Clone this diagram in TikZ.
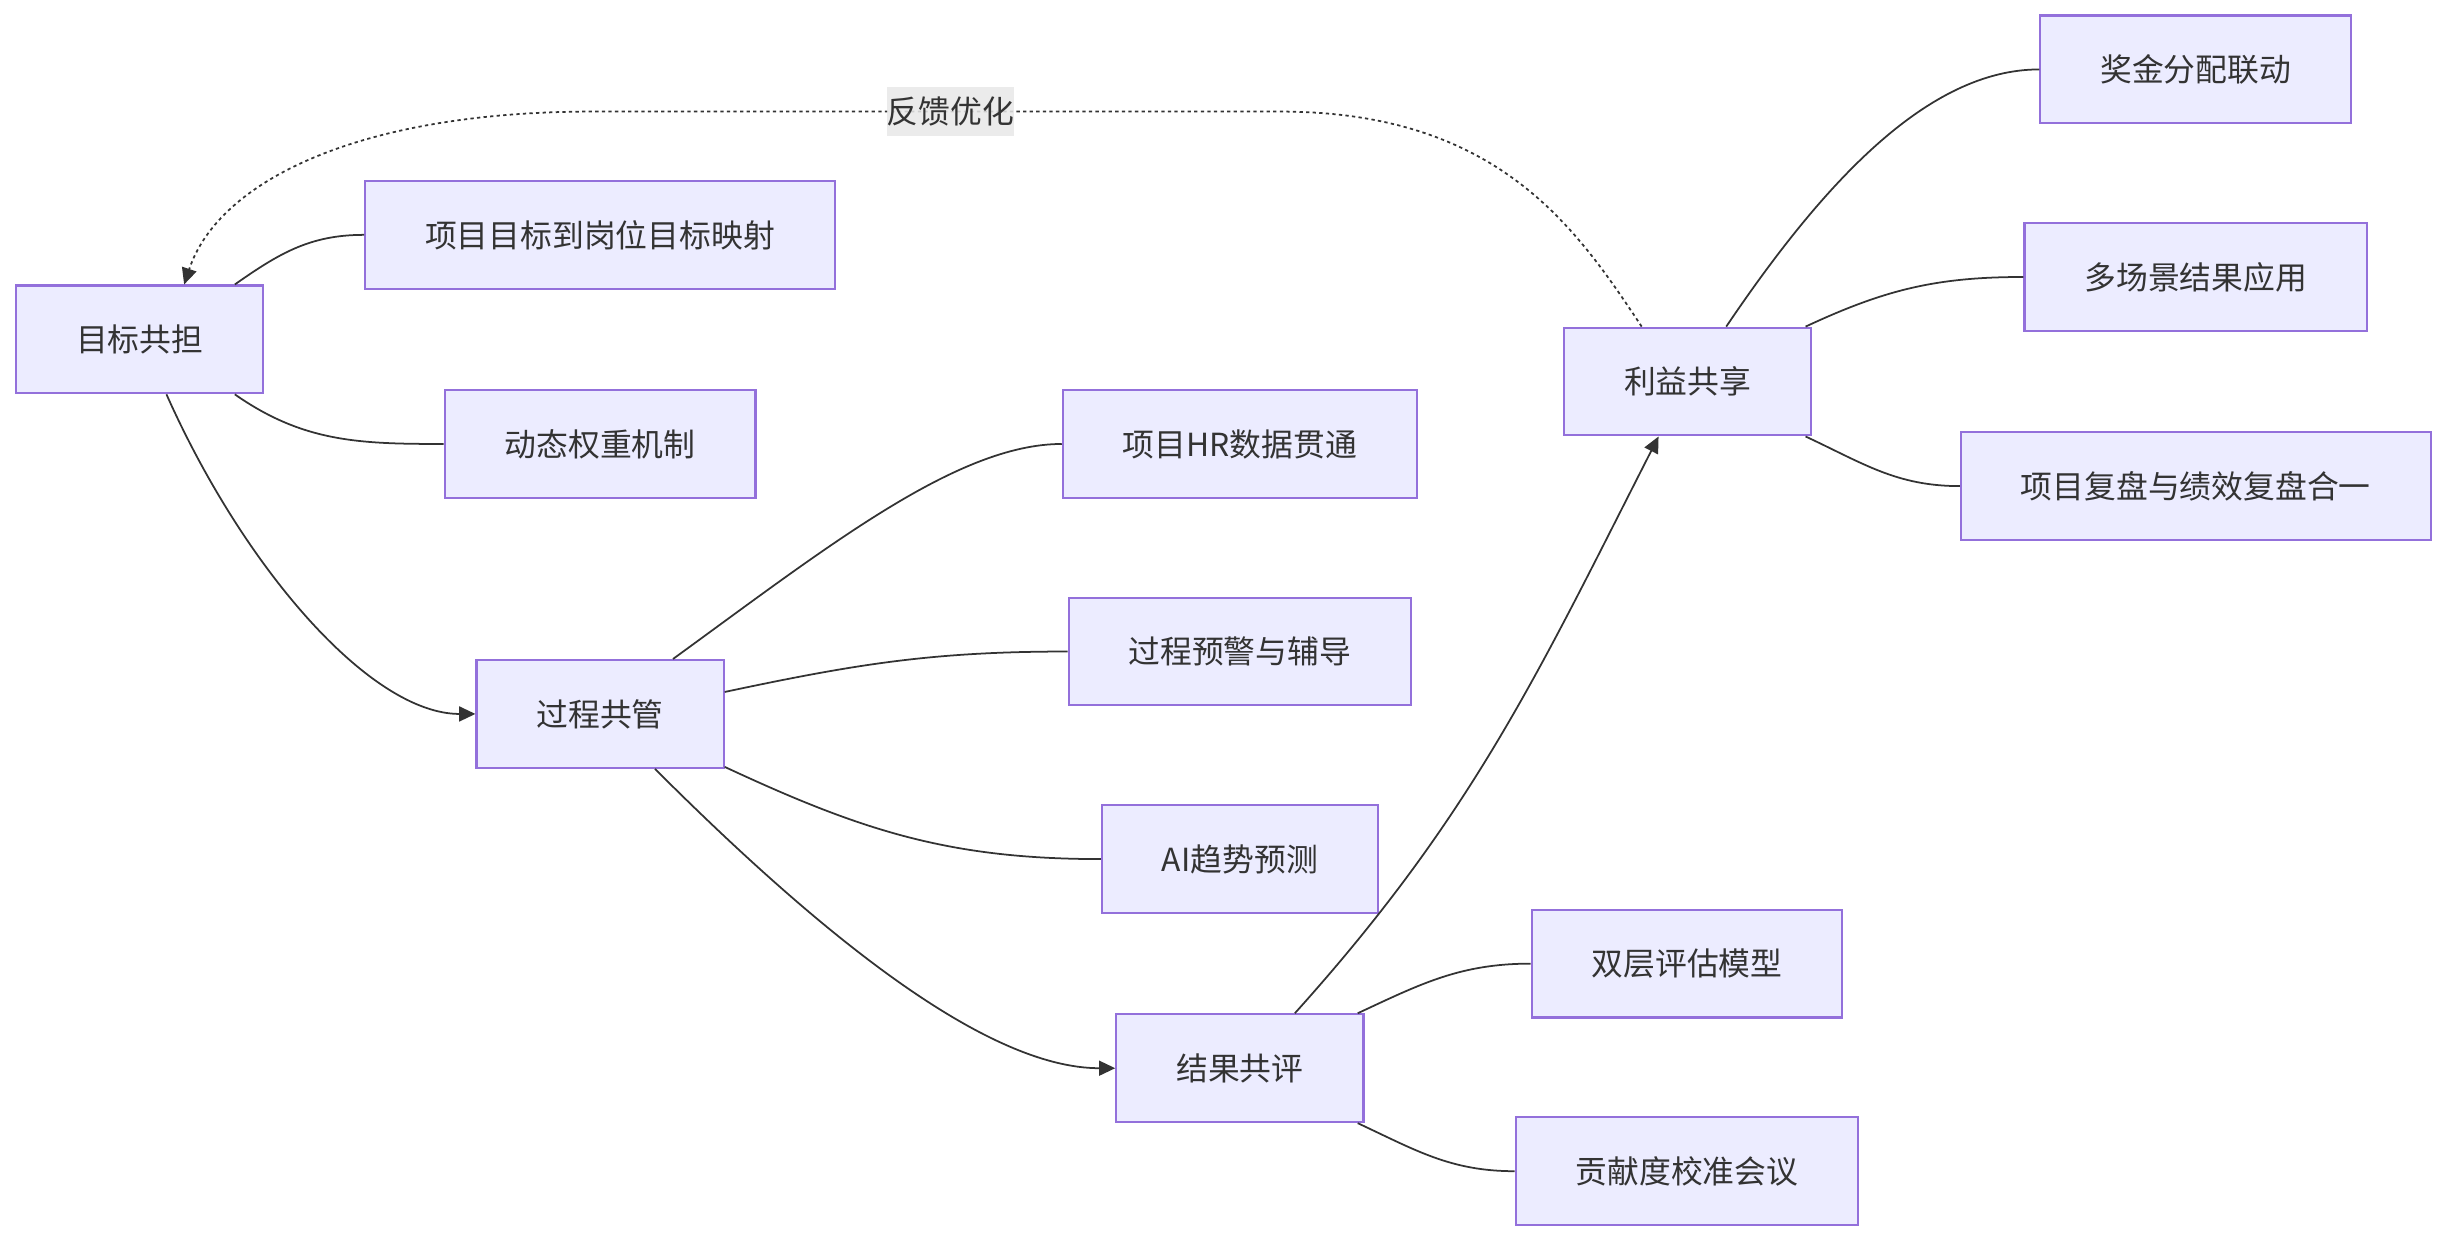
\documentclass[tikz,border=0pt]{standalone}
\usepackage{fontspec}
\newfontfamily\cjk{Noto Sans CJK SC}
\usetikzlibrary{arrows.meta}
\definecolor{boxfill}{HTML}{ECECFF}
\definecolor{boxline}{HTML}{9370DB}
\definecolor{ink}{HTML}{333333}
\definecolor{labelbg}{HTML}{E8E8E8}

\begin{document}
\begin{tikzpicture}[x=.25mm,y=.25mm,line width=.8pt,
  box/.style={draw=boxline,fill=boxfill,line width=1pt,text=ink,font=\cjk\fontsize{14.5}{17}\selectfont,inner xsep=9.6mm,inner ysep=0pt,minimum height=17.25mm},
  link/.style={draw=ink,line width=.8pt},
  flow/.style={link,-{Triangle[length=2.6mm,width=2.4mm]}},
  feedback/.style={flow,dash pattern=on 1.5pt off 1.5pt},
  lbl/.style={fill=labelbg,fill opacity=.85,text opacity=1,text=ink,font=\cjk\fontsize{14.5}{17}\selectfont,inner xsep=0pt,inner ysep=0pt,minimum height=7.75mm}]
\path[use as bounding box] (0,0) rectangle (1568,796);
\node[box] (goal) at (89.5,578.5) {目标共担};
\node[box] (map) at (384.5,645.5) {项目目标到岗位目标映射};
\node[box] (weight) at (384.5,511.5) {动态权重机制};
\node[box] (proc) at (384.5,338.5) {过程共管};
\node[box] (hrdata) at (794.5,511.5) {项目HR数据贯通};
\node[box] (warn) at (794.5,378.5) {过程预警与辅导};
\node[box] (ai) at (794.5,245.5) {AI趋势预测};
\node[box] (result) at (794.5,111.5) {结果共评};
\node[box] (dual) at (1081,178.5) {双层评估模型};
\node[box] (contrib) at (1081,45.5) {贡献度校准会议};
\node[box] (benefit) at (1081.5,551.5) {利益共享};
\node[box] (bonus) at (1407,751.5) {奖金分配联动};
\node[box] (multi) at (1407,618.5) {多场景结果应用};
\node[box] (review) at (1407,484.5) {项目复盘与绩效复盘合一};
\coordinate (fbmid) at (609,724.5);
\draw[link] (goal.30) to[out=35,in=180] (map.west);
\draw[link] (goal.-30) to[out=-35,in=180] (weight.west);
\draw[flow] (goal.-64) to[out=-66,in=180,out looseness=1.1,in looseness=.6] (proc.west);
\draw[link] (proc.37) to[out=36,in=180,out looseness=1.1,in looseness=.6] (hrdata.west);
\draw[link] (proc.10) to[out=12,in=180] (warn.west);
\draw[link] (proc.-23) to[out=-25,in=180] (ai.west);
\draw[flow] (proc.-45) to[out=-45,in=180,out looseness=1.1,in looseness=.6] (result.west);
\draw[link] (result.25) to[out=25,in=180] (dual.west);
\draw[link] (result.-25) to[out=-25,in=180] (contrib.west);
\draw[flow] (result.45) to[out=48,in=-117] (benefit.-118);
\draw[link] (benefit.55) to[out=56,in=180,out looseness=1.1,in looseness=.7] (bonus.west);
\draw[link] (benefit.25) to[out=25,in=180] (multi.west);
\draw[link] (benefit.-25) to[out=-25,in=180] (review.west);
\draw[feedback] (benefit.130) .. controls (1010,650) and (960,724.5) .. (820,724.5) -- (fbmid) -- (380,724.5) .. controls (230,724.5) and (140,680) .. (goal.51);
\node[lbl] (fb) at (fbmid) {反馈优化};
\end{tikzpicture}
\end{document}
